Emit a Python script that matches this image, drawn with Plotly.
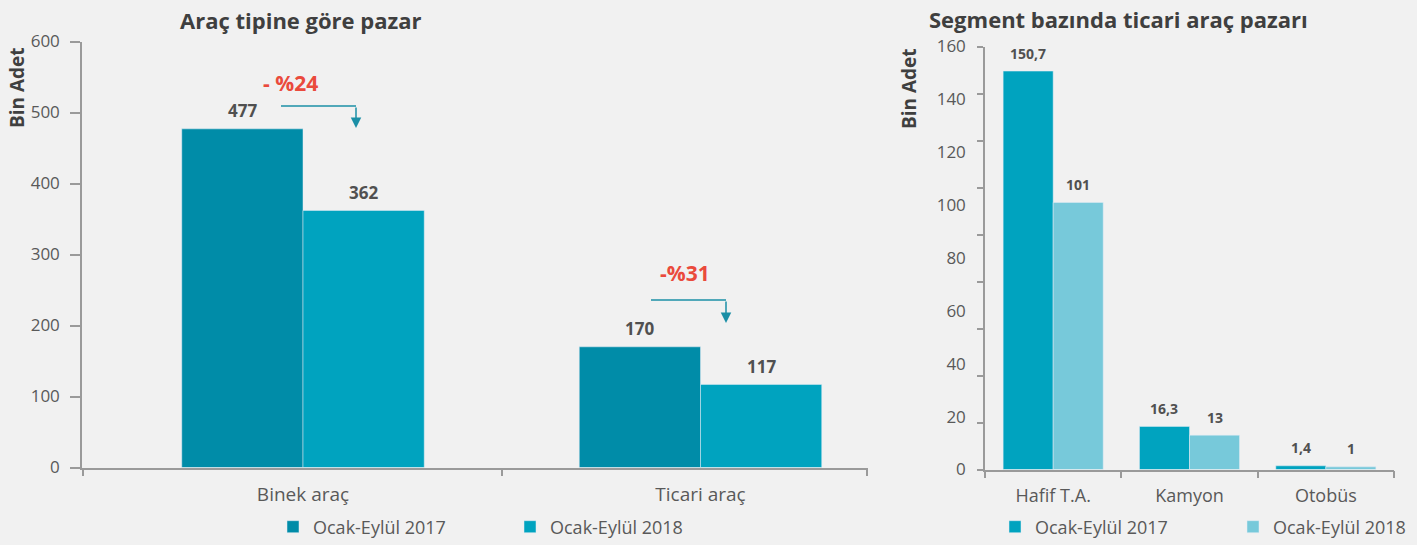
import plotly.graph_objects as go

# ---------------- data ----------------
left_categories = ["Binek araç", "Ticari araç"]
left_2017 = [477, 170]
left_2018 = [362, 117]
left_changes = ["- %24", "-%31"]
left_yticks = [0, 100, 200, 300, 400, 500, 600]

right_categories = ["Hafif T.A.", "Kamyon", "Otobüs"]
right_2017 = [150.7, 16.3, 1.4]
right_2018 = [101, 13, 1]
right_yticks = [0, 20, 40, 60, 80, 100, 120, 140, 160]

series_names = ["Ocak-Eylül 2017", "Ocak-Eylül 2018"]

# ---------------- style ----------------
W, H = 1417, 545
BG = "rgb(241,241,241)"
AXIS = "#9a9a9a"
TICKFONT = dict(family="Open Sans", size=17, color="#595959")
CATFONT_L = dict(family="Open Sans", size=19, color="#595959")
CATFONT_R = dict(family="Open Sans", size=18, color="#595959")
LEGFONT = dict(family="Open Sans", size=18, color="#595959")
LABEL = "#505050"
TITLE = "#3f3f3f"
RED = "#ea4a3c"
ARROW = "#1b8fa6"
L17, L18 = "#008ca8", "#00a3bf"
R17, R18 = "#00a3bf", "#77c9da"


def px(x):
    return x / W


def py(y):
    return 1 - y / H


def fmt(v):
    return f"{v:g}".replace(".", ",")


fig = go.Figure()

lx = list(range(len(left_categories)))
LW = 0.305
fig.add_trace(go.Bar(x=lx, y=left_2017, width=LW, offset=-LW, marker_color=L17,
                     name=series_names[0], xaxis="x", yaxis="y", legend="legend"))
fig.add_trace(go.Bar(x=lx, y=left_2018, width=LW, offset=0, marker_color=L18,
                     name=series_names[1], xaxis="x", yaxis="y", legend="legend"))

rx = list(range(len(right_categories)))
RW = 0.367
fig.add_trace(go.Bar(x=rx, y=right_2017, width=RW, offset=-RW, marker_color=R17,
                     name=series_names[0], xaxis="x2", yaxis="y2", legend="legend2"))
fig.add_trace(go.Bar(x=rx, y=right_2018, width=RW, offset=0, marker_color=R18,
                     name=series_names[1], xaxis="x2", yaxis="y2", legend="legend2"))

annotations = []
for i, c in enumerate(left_categories):
    for v, off in ((left_2017[i], -LW / 2), (left_2018[i], LW / 2)):
        annotations.append(dict(x=i + off, y=v, xref="x", yref="y", text=f"<b>{fmt(v)}</b>",
                                showarrow=False, yshift=18, xanchor="center", yanchor="middle",
                                font=dict(family="Open Sans", size=17, color=LABEL)))
for i, c in enumerate(right_categories):
    for v, off in ((right_2017[i], -RW / 2), (right_2018[i], RW / 2)):
        annotations.append(dict(x=i + off, y=v, xref="x2", yref="y2", text=f"<b>{fmt(v)}</b>",
                                showarrow=False, yshift=18, xanchor="center", yanchor="middle",
                                font=dict(family="Open Sans", size=14, color=LABEL)))

annotations.append(dict(x=px(301), y=py(20), xref="paper", yref="paper",
                        text="<b>Araç tipine göre pazar</b>", showarrow=False,
                        xanchor="center", yanchor="middle",
                        font=dict(family="Open Sans", size=22, color=TITLE)))
annotations.append(dict(x=px(1118), y=py(19), xref="paper", yref="paper",
                        text="<b>Segment bazında ticari araç pazarı</b>", showarrow=False,
                        xanchor="center", yanchor="middle",
                        font=dict(family="Open Sans", size=22, color=TITLE)))
for xx, yy in ((17, 88), (909, 89)):
    annotations.append(dict(x=px(xx), y=py(yy), xref="paper", yref="paper", text="<b>Bin Adet</b>",
                            textangle=-90, showarrow=False, xanchor="center", yanchor="middle",
                            font=dict(family="Open Sans", size=19, color=TITLE)))

changes_pos = [(290, 83, 281, 356, 106, 128), (685, 273, 651, 726, 300, 323)]
shapes = []
for txt, (tx, ty, x0, x1, yl, ytip) in zip(left_changes, changes_pos):
    annotations.append(dict(x=px(tx), y=py(ty), xref="paper", yref="paper", text=f"<b>{txt}</b>",
                            showarrow=False, xanchor="center", yanchor="middle",
                            font=dict(family="Open Sans", size=21, color=RED)))
    shapes.append(dict(type="line", xref="paper", yref="paper", x0=px(x0), x1=px(x1),
                       y0=py(yl), y1=py(yl), line=dict(color=ARROW, width=1.5)))
    annotations.append(dict(x=px(x1), y=py(ytip), xref="paper", yref="paper", text="",
                            showarrow=True, axref="pixel", ayref="pixel", ax=0, ay=-(ytip - yl),
                            arrowhead=2, arrowsize=1.4, arrowwidth=1.5, arrowcolor=ARROW))

left_xrange = [(82 - 303) / 397.5, (868 - 303) / 397.5]

fig.update_layout(
    width=W, height=H,
    paper_bgcolor=BG, plot_bgcolor=BG,
    margin=dict(l=0, r=0, t=0, b=0, autoexpand=False),
    font=dict(family="Open Sans", color="#555555"),
    annotations=annotations,
    shapes=shapes,
    xaxis=dict(domain=[px(82), px(868)], range=left_xrange, anchor="y", automargin=False,
               tickvals=lx, ticktext=left_categories, ticks="", showline=True,
               linecolor=AXIS, linewidth=1.5, showgrid=False, zeroline=False,
               ticklabelstandoff=9, tickfont=CATFONT_L,
               minor=dict(tickvals=[left_xrange[0] + 0.002, 0.5, left_xrange[1] - 0.002],
                          ticks="outside", ticklen=7, tickcolor=AXIS, tickwidth=1.5, showgrid=False)),
    yaxis=dict(domain=[py(467.5), py(41.5)], range=[0, 600], anchor="x", automargin=False,
               tickvals=left_yticks, ticks="outside", ticklen=10, tickcolor=AXIS, tickwidth=1.5,
               showline=True, linecolor=AXIS, linewidth=1.5, showgrid=False, zeroline=False,
               ticklabelstandoff=7, tickfont=TICKFONT),
    xaxis2=dict(domain=[px(985), px(1394)], range=[-0.5, 2.5], anchor="y2", automargin=False,
                tickvals=rx, ticktext=right_categories, ticks="", showline=True,
                linecolor=AXIS, linewidth=1.5, showgrid=False, zeroline=False,
                ticklabelstandoff=9, tickfont=CATFONT_R,
                minor=dict(tickvals=[-0.499, 0.5, 1.5, 2.499], ticks="outside", ticklen=7,
                           tickcolor=AXIS, tickwidth=1.5, showgrid=False)),
    yaxis2=dict(domain=[py(469.5), py(46.5)], range=[0, 160], anchor="x2", automargin=False,
                tickvals=right_yticks, ticks="outside", ticklen=6, tickcolor="rgba(0,0,0,0)",
                showline=True, linecolor=AXIS, linewidth=1.5, showgrid=False, zeroline=False,
                ticklabelstandoff=8, tickfont=TICKFONT,
                minor=dict(tickvals=[160 * i / 9 for i in range(10)], ticks="outside", ticklen=6,
                           tickcolor=AXIS, tickwidth=1.5, showgrid=False)),
    legend=dict(orientation="h", x=px(273), y=py(527), xanchor="left", yanchor="middle",
                bgcolor="rgba(0,0,0,0)", entrywidth=192, entrywidthmode="pixels",
                font=LEGFONT),
    legend2=dict(orientation="h", x=px(995), y=py(527), xanchor="left", yanchor="middle",
                 bgcolor="rgba(0,0,0,0)", entrywidth=193, entrywidthmode="pixels",
                 font=LEGFONT),
    showlegend=True,
)

fig.write_html("out.html", config={"displayModeBar": False},
               post_script="document.body.style.margin='0';document.body.style.overflow='hidden';")
